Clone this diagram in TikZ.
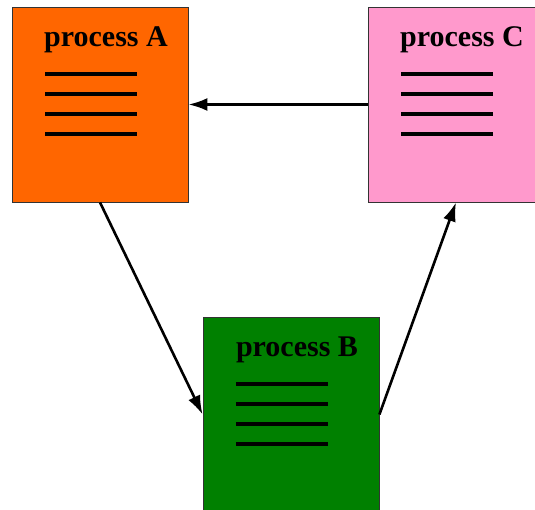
\documentclass[tikz,border=0pt]{standalone}
\usepackage{fontspec}
\setmainfont{Liberation Serif}
\usetikzlibrary{arrows.meta}

\definecolor{procorange}{RGB}{255,102,0}
\definecolor{procpink}{RGB}{255,153,204}
\definecolor{procgreen}{RGB}{0,128,0}

\tikzset{
    procbox/.style={draw=black!80, line width=0.8pt, minimum width=176pt, minimum height=195pt, inner sep=0pt},
    proctitle/.style={anchor=base, font=\fontsize{30}{30}\selectfont\bfseries},
    textline/.style={line width=3.2pt},
    flow/.style={line width=2.6pt, -{Latex[length=19pt,width=13pt]}}
}

\begin{document}
\begin{tikzpicture}[x=1pt, y=-1pt]
    \clip (0,0) rectangle (535,510);
    \useasboundingbox (0,0) rectangle (535,510);

    % the three processes
    \node[procbox, fill=procorange] (procA) at (100,104.5) {};
    \node[procbox, fill=procgreen] (procB) at (291,414.5) {};
    \node[procbox, fill=procpink] (procC) at (456,104.5) {};

    \node[proctitle] (titleA) at ([xshift=6pt,yshift=58pt]procA.center) {process A};
    \node[proctitle] (titleB) at ([xshift=6pt,yshift=58.5pt]procB.center) {process B};
    \node[proctitle] (titleC) at ([xshift=6pt,yshift=58pt]procC.center) {process C};

    % ruled lines under each title
    \foreach \p in {procA,procB,procC}
        \foreach \dy in {30.5,10.5,-9.5,-29.5}
            \draw[textline] ([xshift=-55pt,yshift=\dy pt]\p.center) -- ++(92,0);

    % cycle A -> B -> C -> A
    \draw[flow] (procA.south) -- (procB.west);
    \draw[flow] (procB.east) -- (procC.south);
    \draw[flow] (procC.west) -- (procA.east);
\end{tikzpicture}
\end{document}
